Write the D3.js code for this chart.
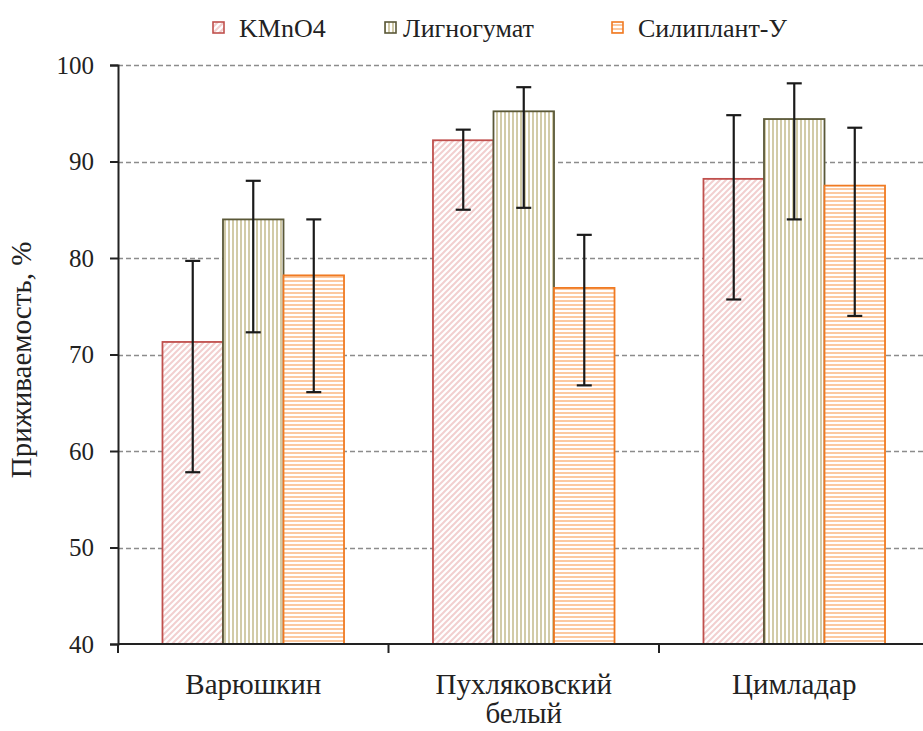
<!DOCTYPE html>
<html>
<head>
<meta charset="utf-8">
<script src="https://cdn.jsdelivr.net/npm/d3@7"></script>
<style>
  body { margin: 0; background: #fff; }
  svg { display: block; font-family: "Liberation Serif", "Times New Roman", serif; }
</style>
</head>
<body>
<figure id="chart" style="margin:0"></figure>
<script>
// data
const categories = [["Варюшкин"], ["Пухляковский", "белый"], ["Цимладар"]];
const seriesNames = ["KMnO4", "Лигногумат", "Силиплант-У"];
const kmno4 = [71.3, 92.2, 88.2];
const kmno4Hi = [79.7, 93.3, 94.8];
const kmno4Lo = [57.8, 85.0, 75.7];
const lignogumat = [84.0, 95.2, 94.4];
const lignogumatHi = [88.0, 97.7, 98.1];
const lignogumatLo = [72.3, 85.2, 84.0];
const siliplant = [78.2, 76.9, 87.5];
const siliplantHi = [84.0, 82.4, 93.5];
const siliplantLo = [66.1, 66.8, 74.0];
const yTicks = [40, 50, 60, 70, 80, 90, 100];

const width = 923, height = 731;
const margin = { left: 118, top: 65, bottom: 87 };
const plotRight = 929.5;

const svg = d3.select("#chart").append("svg")
  .attr("width", width)
  .attr("height", height);

const defs = svg.append("defs");

// hatch patterns
function pattern(id, w, h, draw) {
  const p = defs.append("pattern")
    .attr("id", id)
    .attr("patternUnits", "userSpaceOnUse")
    .attr("width", w)
    .attr("height", h);
  p.append("rect").attr("width", w).attr("height", h).attr("fill", "#fff");
  draw(p);
}
pattern("hatchDiag", 6, 6, p => {
  p.append("path").attr("d", "M-1,7 L7,-1 M-4,4 L4,-4 M2,10 L10,2")
    .attr("stroke", "#f2cfcf").attr("stroke-width", 2);
});
pattern("hatchVert", 4, 4, p => {
  p.append("rect").attr("x", 0).attr("width", 2).attr("height", 4).attr("fill", "#d2cba8");
});
pattern("hatchHoriz", 4, 4, p => {
  p.append("rect").attr("y", 0).attr("width", 4).attr("height", 2).attr("fill", "#fcc9a0");
});

const series = [
  { name: seriesNames[0], values: kmno4, hi: kmno4Hi, lo: kmno4Lo, fill: "url(#hatchDiag)", stroke: "#c0504d" },
  { name: seriesNames[1], values: lignogumat, hi: lignogumatHi, lo: lignogumatLo, fill: "url(#hatchVert)", stroke: "#5a5838" },
  { name: seriesNames[2], values: siliplant, hi: siliplantHi, lo: siliplantLo, fill: "url(#hatchHoriz)", stroke: "#f07a22" }
];

const x0 = d3.scaleBand()
  .domain(d3.range(categories.length))
  .range([margin.left, plotRight]);

const x1 = d3.scaleBand()
  .domain(d3.range(series.length))
  .range([0, x0.bandwidth()])
  .paddingInner(0)
  .paddingOuter(0.735);

const y = d3.scaleLinear()
  .domain([40, 100])
  .range([height - margin.bottom, margin.top]);

// gridlines
svg.append("g")
  .selectAll("line")
  .data(yTicks.filter(t => t > 40))
  .enter()
  .append("line")
  .attr("x1", margin.left)
  .attr("x2", width)
  .attr("y1", d => Math.round(y(d)) + 0.5)
  .attr("y2", d => Math.round(y(d)) + 0.5)
  .attr("stroke", "#8c8c8c")
  .attr("stroke-width", 1.3)
  .attr("stroke-dasharray", "5,3");

// bars
series.forEach((s, si) => {
  svg.append("g")
    .selectAll("rect")
    .data(s.values)
    .enter()
    .append("rect")
    .attr("x", (d, i) => x0(i) + x1(si))
    .attr("y", d => y(d))
    .attr("width", x1.bandwidth())
    .attr("height", d => y(40) - y(d))
    .attr("fill", s.fill)
    .attr("stroke", s.stroke)
    .attr("stroke-width", 1.8);
});

// error bars
series.forEach((s, si) => {
  const g = svg.append("g").attr("stroke", "#1a1a1a").attr("stroke-width", 2.2);
  s.values.forEach((v, i) => {
    const cx = x0(i) + x1(si) + x1.bandwidth() / 2;
    g.append("line").attr("x1", cx).attr("x2", cx).attr("y1", y(s.hi[i])).attr("y2", y(s.lo[i]));
    [s.hi[i], s.lo[i]].forEach(e => {
      g.append("line").attr("x1", cx - 7.5).attr("x2", cx + 7.5).attr("y1", y(e)).attr("y2", y(e));
    });
  });
});

// y axis
const yAxis = svg.append("g")
  .attr("transform", "translate(" + margin.left + ",0)")
  .call(d3.axisLeft(y).tickValues(yTicks).tickSize(8).tickPadding(16));
yAxis.select(".domain").attr("stroke", "#222").attr("stroke-width", 2);
yAxis.selectAll(".tick line").attr("stroke", "#222").attr("stroke-width", 2);
yAxis.selectAll("text")
  .attr("font-family", "Liberation Serif")
  .attr("font-size", 25)
  .attr("fill", "#222");

// x axis
const xAxisY = y(40);
const xg = svg.append("g");
xg.append("line")
  .attr("x1", margin.left).attr("x2", width)
  .attr("y1", xAxisY).attr("y2", xAxisY)
  .attr("stroke", "#222").attr("stroke-width", 2);
xg.selectAll(".xtick")
  .data(d3.range(categories.length + 1))
  .enter()
  .append("line")
  .attr("x1", d => margin.left + d * x0.step())
  .attr("x2", d => margin.left + d * x0.step())
  .attr("y1", xAxisY)
  .attr("y2", xAxisY + 9)
  .attr("stroke", "#222").attr("stroke-width", 2);

const labels = xg.selectAll(".xlabel")
  .data(categories)
  .enter()
  .append("text")
  .attr("x", (d, i) => x0(i) + x0.bandwidth() / 2)
  .attr("y", 694)
  .attr("text-anchor", "middle")
  .attr("font-size", 29)
  .attr("fill", "#222");
labels.each(function (d) {
  const t = d3.select(this);
  d.forEach((line, li) => {
    t.append("tspan")
      .attr("x", t.attr("x"))
      .attr("dy", li === 0 ? 0 : 29)
      .text(line);
  });
});

// y title
svg.append("text")
  .attr("transform", "translate(31,360) rotate(-90)")
  .attr("text-anchor", "middle")
  .attr("font-size", 29)
  .attr("fill", "#222")
  .text("Приживаемость, %");

// legend
const legendX = [212, 384, 611];
const legend = svg.append("g");
series.forEach((s, i) => {
  legend.append("rect")
    .attr("x", legendX[i] + 1)
    .attr("y", 22)
    .attr("width", 11)
    .attr("height", 11)
    .attr("fill", s.fill)
    .attr("stroke", s.stroke)
    .attr("stroke-width", 1.6);
  legend.append("text")
    .attr("x", legendX[i] + (i === 1 ? 19 : 27))
    .attr("y", 37)
    .attr("font-size", 26)
    .attr("fill", "#222")
    .text(s.name);
});
</script>
</body>
</html>
